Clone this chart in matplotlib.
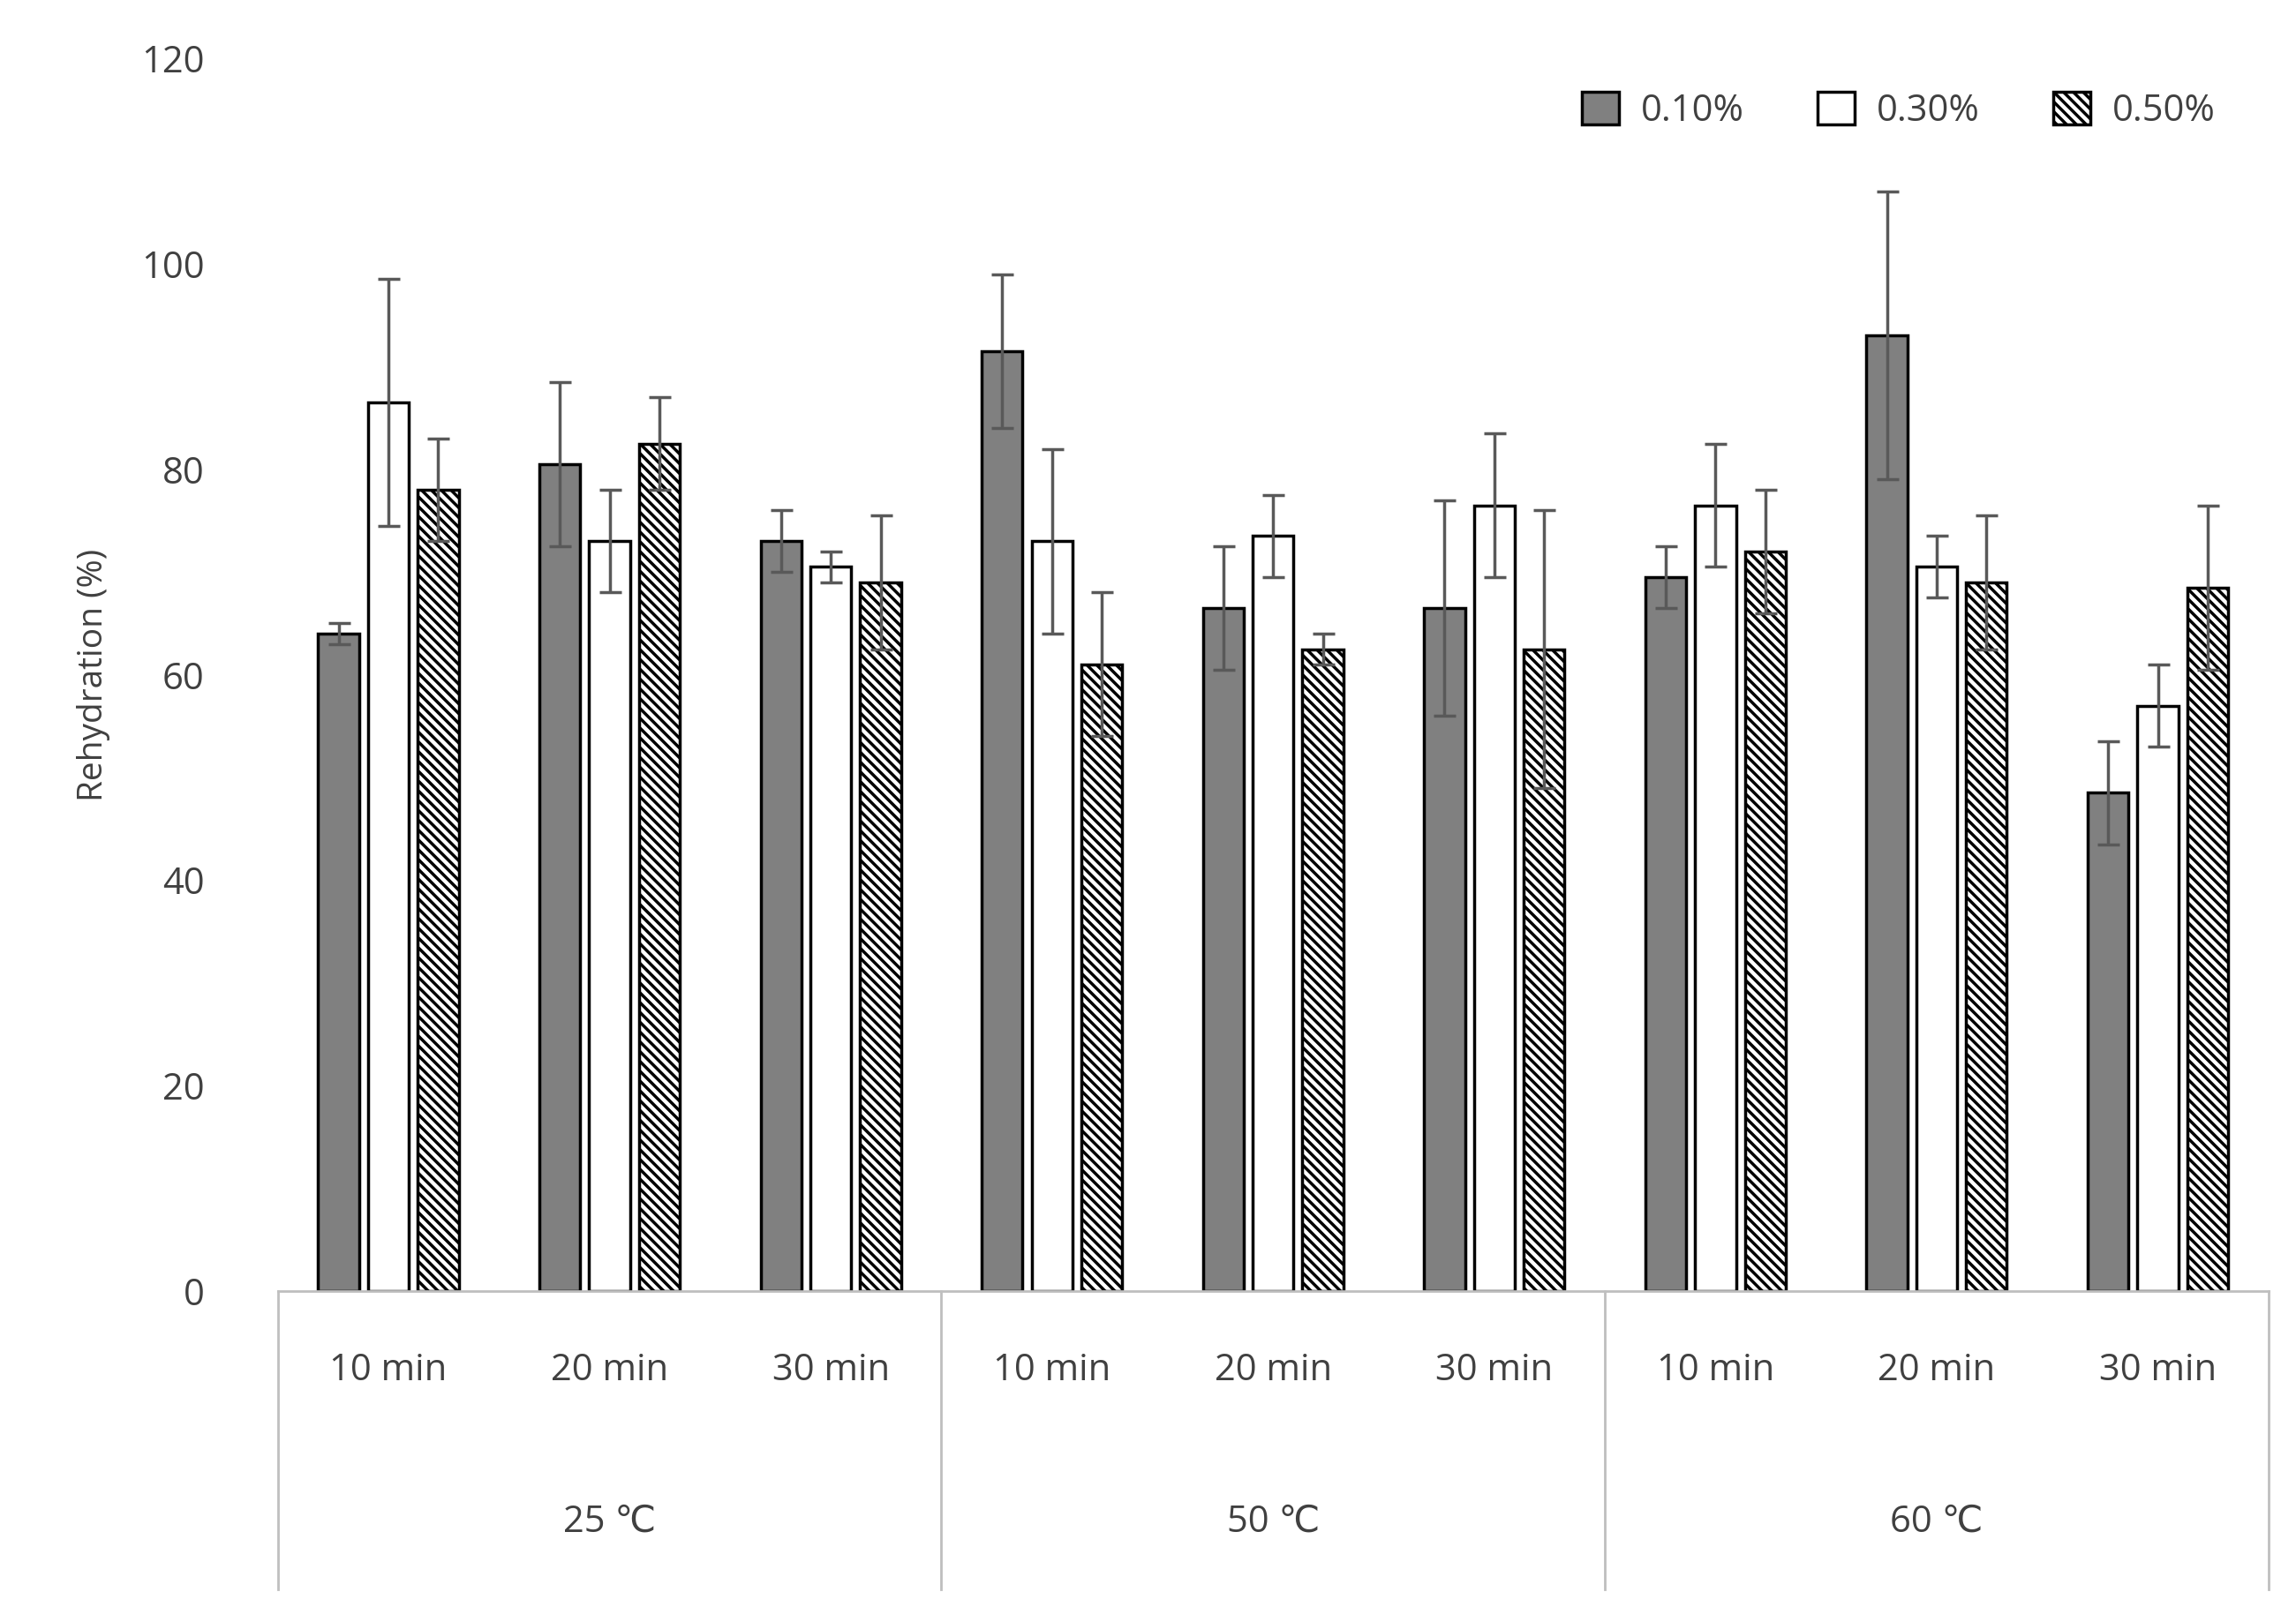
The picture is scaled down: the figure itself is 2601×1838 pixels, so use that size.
import matplotlib.pyplot as plt
import numpy as np

plt.rcParams['font.family'] = ['Open Sans', 'DejaVu Sans']
plt.rcParams['hatch.linewidth'] = 2.5

times = ['10 min', '20 min', '30 min'] * 3
temps = ['25 ℃', '50 ℃', '60 ℃']
series = ['0.10%', '0.30%', '0.50%']

v010 = [64, 80.5, 73, 91.5, 66.5, 66.5, 69.5, 93, 48.5]
e010 = [1, 8, 3, 7.5, 6, 10.5, 3, 14, 5]
v030 = [86.5, 73, 70.5, 73, 73.5, 76.5, 76.5, 70.5, 57]
e030 = [12, 5, 1.5, 9, 4, 7, 6, 3, 4]
v050 = [78, 82.5, 69, 61, 62.5, 62.5, 72, 69, 68.5]
e050 = [5, 4.5, 6.5, 7, 1.5, 13.5, 6, 6.5, 8]

fig = plt.figure(figsize=(26.01, 18.38), dpi=100)
ax = fig.add_axes([0.121, 0.204, 0.867, 0.76])
x = np.arange(len(times))
w = 0.185
step = 0.225
txt = '#404040'
ekw = dict(ecolor='#595959', elinewidth=2.5, capsize=9, capthick=2.5)
ax.bar(x - step, v010, w, color='#808080', edgecolor='black', linewidth=2.5,
       yerr=e010, error_kw=ekw, label=series[0])
ax.bar(x, v030, w, color='white', edgecolor='black', linewidth=2.5,
       yerr=e030, error_kw=ekw, label=series[1])
ax.bar(x + step, v050, w, color='white', edgecolor='black', linewidth=2.5,
       hatch='\\\\\\', yerr=e050, error_kw=ekw, label=series[2])

ax.set_xlim(-0.5, len(times) - 0.5)
ax.set_ylim(0, 120)
ax.set_yticks(range(0, 121, 20))
ax.tick_params(axis='y', length=0, labelsize=30, labelcolor=txt, pad=60)
ax.set_xticks(x)
ax.set_xticklabels(times)
ax.tick_params(axis='x', length=0, labelsize=30, labelcolor=txt, pad=50)
for s in ['top', 'right', 'left']:
    ax.spines[s].set_visible(False)
ax.spines['bottom'].set_color('#bfbfbf')
ax.spines['bottom'].set_linewidth(2)
ax.set_ylabel('Rehydration (%)', fontsize=28, color=txt, labelpad=25)

for b in [-0.5, 2.5, 5.5, 8.5]:
    ax.plot([b, b], [0, -29], color='#bfbfbf', lw=2, clip_on=False,
            transform=ax.transData)
for i, t in enumerate(temps):
    ax.text(3 * i + 1, -22.5, t, ha='center', va='center', fontsize=30, color=txt)

ax.legend(loc='upper right', bbox_to_anchor=(0.99, 1.0), ncol=3, frameon=False,
          fontsize=30, labelcolor=txt, handlelength=1.0, handleheight=1.0,
          columnspacing=2.0, handletextpad=0.6)

fig.savefig('out.png', dpi=100)
